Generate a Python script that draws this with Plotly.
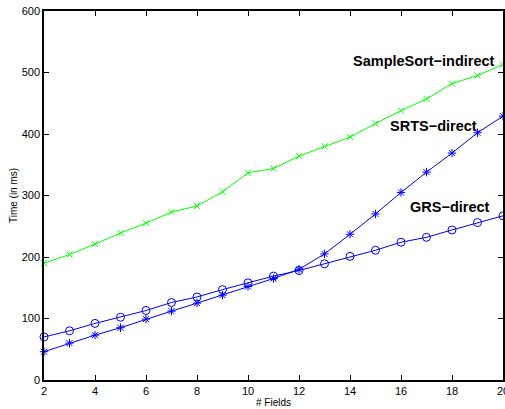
import plotly.graph_objects as go

fields = list(range(2, 21))
samplesort_indirect = [190, 204, 221, 239, 255, 273, 283, 306, 337, 344, 364, 380, 395, 417, 438, 457, 482, 495, 513]
srts_direct = [46, 60, 73, 85, 99, 112, 125, 138, 152, 165, 180, 205, 237, 270, 305, 338, 369, 402, 429]
grs_direct = [70, 80, 92, 102, 113, 126, 135, 147, 158, 169, 178, 189, 201, 211, 224, 232, 244, 256, 267]

labels = ["SampleSort\u2212indirect", "SRTS\u2212direct", "GRS\u2212direct"]
x_ticks = [2, 4, 6, 8, 10, 12, 14, 16, 18, 20]
y_ticks = [0, 100, 200, 300, 400, 500, 600]

fnt = "Liberation Sans, Arial, Helvetica, sans-serif"

fig = go.Figure()
fig.add_trace(go.Scatter(x=fields, y=samplesort_indirect, mode="lines+markers",
                         line=dict(color="#00ff00", width=1),
                         marker=dict(symbol="x-thin-open", size=6, color="#00ff00",
                                     line=dict(color="#00ff00", width=1)),
                         cliponaxis=False, name=labels[0]))
fig.add_trace(go.Scatter(x=fields, y=srts_direct, mode="lines+markers",
                         line=dict(color="#0000ff", width=1),
                         marker=dict(symbol="asterisk-open", size=7, color="#0000ff",
                                     line=dict(color="#0000ff", width=1)),
                         cliponaxis=False, name=labels[1]))
fig.add_trace(go.Scatter(x=fields, y=grs_direct, mode="lines+markers",
                         line=dict(color="#0000ff", width=1),
                         marker=dict(symbol="circle-open", size=8, color="#0000ff",
                                     line=dict(color="#0000ff", width=1)),
                         cliponaxis=False, name=labels[2]))

ann_font = dict(family=fnt, size=14.5, color="black")
fig.add_annotation(x=19.78, y=518, xref="x", yref="y", text="<b>" + labels[0] + "</b>",
                   showarrow=False, xanchor="right", yanchor="middle", font=ann_font)
fig.add_annotation(x=19.05, y=413, xref="x", yref="y", text="<b>" + labels[1] + "</b>",
                   showarrow=False, xanchor="right", yanchor="middle", font=ann_font)
fig.add_annotation(x=19.55, y=282, xref="x", yref="y", text="<b>" + labels[2] + "</b>",
                   showarrow=False, xanchor="right", yanchor="middle", font=ann_font)

axis_common = dict(showline=True, linecolor="black", linewidth=1.5, mirror="ticks",
                   ticks="inside", ticklen=5, tickcolor="black", tickwidth=1,
                   showgrid=False, zeroline=False, automargin=False,
                   ticklabeloverflow="allow",
                   tickfont=dict(family=fnt, size=11, color="black"))

fig.update_layout(
    width=505, height=409,
    margin=dict(l=44, r=2, t=11, b=29),
    paper_bgcolor="white", plot_bgcolor="white",
    showlegend=False,
    font=dict(family=fnt, color="black"),
    xaxis=dict(range=[2, 20], tickvals=x_ticks,
               title=dict(text="# Fields", font=dict(family=fnt, size=10), standoff=3),
               **axis_common),
    yaxis=dict(range=[0, 600], tickvals=y_ticks,
               title=dict(text="Time (in ms)", font=dict(family=fnt, size=10), standoff=2),
               **axis_common),
)
fig.update_xaxes(ticklabelstandoff=0)
fig.write_html("out.html")
